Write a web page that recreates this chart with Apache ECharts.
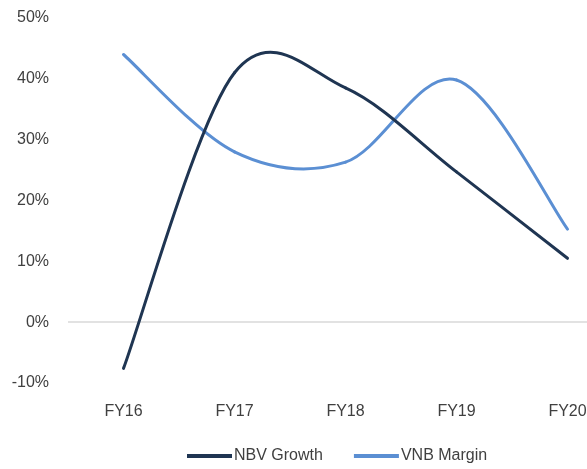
<!DOCTYPE html>
<html>
<head>
<meta charset="utf-8">
<style>
  html, body { margin: 0; padding: 0; background: #ffffff; overflow: hidden; }
  /* the plot area runs a little past the right edge of the window */
  #chart { width: 623px; height: 469px; }
</style>
<script src="https://cdn.jsdelivr.net/npm/echarts@6/dist/echarts.min.js"></script>
</head>
<body>
<div id="chart"></div>
<script>
// Fiscal years on the category axis
const years = ['FY16', 'FY17', 'FY18', 'FY19', 'FY20'];
// Series values, in percent
const nbvGrowth = [-7.6, 41.0, 38.5, 24.7, 10.5];
const vnbMargin = [44.0, 28.0, 26.3, 39.8, 15.3];
// Value axis range and step, in percent
const yMin = -10;
const yMax = 50;
const yStep = 10;

const labelFont = 'Liberation Sans, Arial, sans-serif';
const textColor = '#404040';
const navy = '#1f3552';
const lightBlue = '#5b8fd3';

// Smoothed line drawn as Catmull-Rom Bezier segments between neighbouring points
function smoothLine(values, color) {
  return function (params, api) {
    const i = params.dataIndex;
    const n = values.length;
    if (i >= n - 1) return null;
    const pt = k => {
      const c = Math.min(Math.max(k, 0), n - 1);
      return api.coord([c, values[c]]);
    };
    const p0 = pt(i - 1), p1 = pt(i), p2 = pt(i + 1), p3 = pt(i + 2);
    return {
      type: 'bezierCurve',
      shape: {
        x1: p1[0], y1: p1[1],
        cpx1: p1[0] + (p2[0] - p0[0]) / 6, cpy1: p1[1] + (p2[1] - p0[1]) / 6,
        cpx2: p2[0] - (p3[0] - p1[0]) / 6, cpy2: p2[1] - (p3[1] - p1[1]) / 6,
        x2: p2[0], y2: p2[1]
      },
      style: { stroke: color, lineWidth: 3, fill: null, lineCap: 'round' }
    };
  };
}

const chart = echarts.init(document.getElementById('chart'));
chart.setOption({
  animation: false,
  grid: { left: 68, right: 0, top: 18, bottom: 86, containLabel: false },
  xAxis: {
    type: 'category',
    data: years,
    boundaryGap: true,
    axisLine: { show: false },
    axisTick: { show: false },
    axisLabel: { color: textColor, fontSize: 16, fontFamily: labelFont, margin: 21 }
  },
  yAxis: {
    type: 'value',
    min: yMin,
    max: yMax,
    interval: yStep,
    axisLine: { show: false },
    axisTick: { show: false },
    axisLabel: {
      color: textColor, fontSize: 16, fontFamily: labelFont, margin: 19,
      formatter: v => v + '%'
    },
    splitLine: {
      show: true,
      // only the zero line is drawn
      lineStyle: { color: ['rgba(0,0,0,0)', '#d9d9d9', 'rgba(0,0,0,0)', 'rgba(0,0,0,0)', 'rgba(0,0,0,0)', 'rgba(0,0,0,0)', 'rgba(0,0,0,0)'], width: 1.5 }
    }
  },
  legend: {
    bottom: 0,
    left: 182,
    icon: 'rect',
    itemWidth: 45,
    itemHeight: 4,
    itemGap: 31,
    textStyle: { color: textColor, fontSize: 16, fontFamily: labelFont, padding: [0, 0, 0, -3] },
    data: ['NBV Growth', 'VNB Margin']
  },
  series: [
    {
      name: 'VNB Margin',
      type: 'custom',
      data: vnbMargin.map((v, i) => [i, v]),
      encode: { x: 0, y: 1 },
      renderItem: smoothLine(vnbMargin, lightBlue),
      itemStyle: { color: lightBlue }
    },
    {
      name: 'NBV Growth',
      type: 'custom',
      data: nbvGrowth.map((v, i) => [i, v]),
      encode: { x: 0, y: 1 },
      renderItem: smoothLine(nbvGrowth, navy),
      itemStyle: { color: navy }
    }
  ]
});
</script>
</body>
</html>
